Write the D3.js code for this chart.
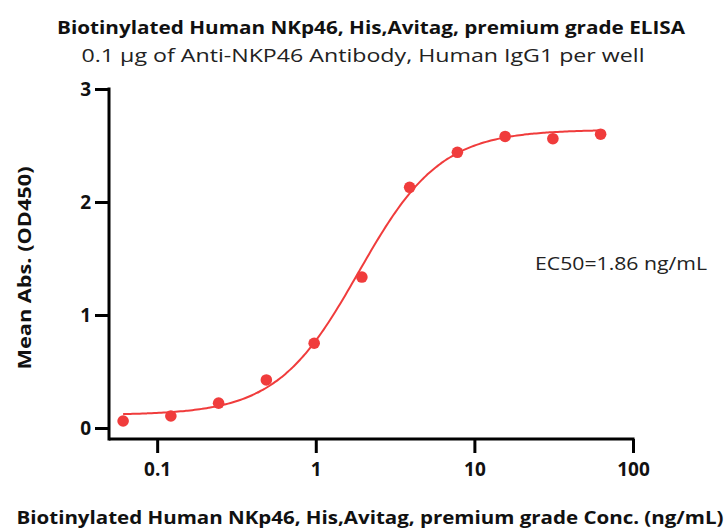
<!DOCTYPE html>
<html>
<head>
<meta charset="utf-8">
<script src="https://cdn.jsdelivr.net/npm/d3@7"></script>
<style>
  body { margin: 0; background: #fff; }
  svg { display: block; font-family: "Open Sans", sans-serif; }
</style>
</head>
<body>
<svg id="chart" width="728" height="530"></svg>
<script>
// Data
const concentrations = [0.061, 0.122, 0.244, 0.488, 0.977, 1.953, 3.906, 7.8125, 15.625, 31.25, 62.5];
const meanAbs = [0.062, 0.106, 0.22, 0.425, 0.75, 1.336, 2.13, 2.44, 2.58, 2.56, 2.60];
const xTicks = [0.1, 1, 10, 100];
const xTickLabels = ["0.1", "1", "10", "100"];
const yTicks = [0, 1, 2, 3];
// 4-parameter logistic fit parameters
const fitBottom = 0.115;
const fitTop = 2.64;
const fitEC50 = 1.86;
const fitHill = 1.68;

const title = "Biotinylated Human NKp46, His,Avitag, premium grade ELISA";
const subtitle = "0.1 \u00b5g of Anti-NKP46 Antibody, Human IgG1 per well";
const xLabel = "Biotinylated Human NKp46, His,Avitag, premium grade Conc. (ng/mL)";
const yLabel = "Mean Abs. (OD450)";
const ec50Label = "EC50=1.86 ng/mL";

const red = "#f03c3c";
const font = "'Open Sans', sans-serif";
const svg = d3.select("#chart");

const x = d3.scaleLog().domain([0.0497, 100]).range([109, 633]);
const y = d3.scaleLinear().domain([0, 3]).range([428, 89]);
const xAxisY = 439;

// Titles
svg.append("text").attr("x", 371).attr("y", 34).attr("text-anchor", "middle")
  .attr("font-weight", "bold").attr("font-size", 18).attr("fill", "#111")
  .attr("textLength", 628).attr("lengthAdjust", "spacingAndGlyphs").text(title);
svg.append("text").attr("x", 363).attr("y", 62).attr("text-anchor", "middle")
  .attr("font-size", 18).attr("fill", "#222")
  .attr("textLength", 563).attr("lengthAdjust", "spacingAndGlyphs").text(subtitle);

// Y axis
const yAxis = d3.axisLeft(y).tickValues(yTicks).tickSize(14).tickPadding(4).tickFormat(d3.format("d"));
const gy = svg.append("g").attr("transform", "translate(109,0)").call(yAxis);
gy.select(".domain").remove();
gy.selectAll(".tick line").attr("stroke", "#000").attr("stroke-width", 3);
gy.selectAll(".tick text").attr("font-size", 19).attr("font-weight", "bold").attr("fill", "#111")
  .attr("font-family", font);
svg.append("line").attr("x1", 109).attr("x2", 109).attr("y1", y(3) - 1.5).attr("y2", xAxisY + 1.5)
  .attr("stroke", "#000").attr("stroke-width", 3);

// X axis
const xAxis = d3.axisBottom(x).tickValues(xTicks).tickSize(14).tickPadding(10)
  .tickFormat((d, i) => xTickLabels[i]);
const gx = svg.append("g").attr("transform", `translate(0,${xAxisY})`).call(xAxis);
gx.select(".domain").remove();
gx.selectAll(".tick line").attr("stroke", "#000").attr("stroke-width", 3);
gx.selectAll(".tick text").attr("font-size", 19).attr("font-weight", "bold").attr("fill", "#111")
  .attr("font-family", font);
svg.append("line").attr("x1", 109).attr("x2", x(100) + 1.5).attr("y1", xAxisY).attr("y2", xAxisY)
  .attr("stroke", "#000").attr("stroke-width", 3);

// Axis labels
svg.append("text").attr("transform", "translate(31,268) rotate(-90)").attr("text-anchor", "middle")
  .attr("font-weight", "bold").attr("font-size", 17).attr("fill", "#111")
  .attr("textLength", 203).attr("lengthAdjust", "spacingAndGlyphs").text(yLabel);
svg.append("text").attr("x", 370).attr("y", 524).attr("text-anchor", "middle")
  .attr("font-weight", "bold").attr("font-size", 18).attr("fill", "#111")
  .attr("textLength", 707).attr("lengthAdjust", "spacingAndGlyphs").text(xLabel);

// Fit curve
const fit = c => fitBottom + (fitTop - fitBottom) / (1 + Math.pow(fitEC50 / c, fitHill));
const curveX = d3.range(0, 201).map(i => Math.pow(10, Math.log10(concentrations[0]) +
  i / 200 * (Math.log10(concentrations[concentrations.length - 1]) - Math.log10(concentrations[0]))));
const line = d3.line().x(d => x(d)).y(d => y(fit(d))).curve(d3.curveMonotoneX);
svg.append("path").datum(curveX).attr("d", line).attr("fill", "none")
  .attr("stroke", red).attr("stroke-width", 2);

// Points
svg.append("g").selectAll("circle").data(concentrations).join("circle")
  .attr("cx", d => x(d)).attr("cy", (d, i) => y(meanAbs[i])).attr("r", 5.8).attr("fill", red);

// EC50 annotation
svg.append("text").attr("x", 535).attr("y", 270).attr("font-size", 18).attr("fill", "#222")
  .attr("textLength", 172).attr("lengthAdjust", "spacingAndGlyphs").text(ec50Label);
</script>
</body>
</html>
